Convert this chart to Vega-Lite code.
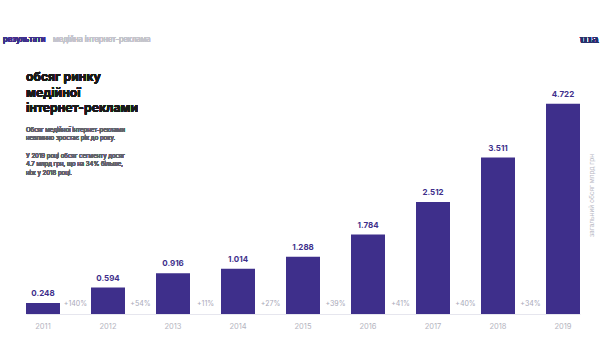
{
  "$schema": "https://vega.github.io/schema/vega-lite/v6.json",
  "autosize": "none",
  "width": 554,
  "height": 314,
  "padding": {"left": 26, "top": 0, "right": 20, "bottom": 43},
  "background": "white",
  "config": {"view": {"stroke": null}, "font": "Inter"},
  "data": {"values": [
    {"year": "2011", "value": 0.248, "growth": ""},
    {"year": "2012", "value": 0.594, "growth": "+140%"},
    {"year": "2013", "value": 0.916, "growth": "+54%"},
    {"year": "2014", "value": 1.014, "growth": "+11%"},
    {"year": "2015", "value": 1.288, "growth": "+27%"},
    {"year": "2016", "value": 1.784, "growth": "+39%"},
    {"year": "2017", "value": 2.512, "growth": "+41%"},
    {"year": "2018", "value": 3.511, "growth": "+40%"},
    {"year": "2019", "value": 4.722, "growth": "+34%"}
  ]},
  "encoding": {
    "x": {"field": "year", "type": "ordinal", "sort": null,
      "scale": {"paddingInner": 0.477, "paddingOuter": 0},
      "axis": {"title": null, "ticks": false, "domainColor": "#e6e6ee", "domainWidth": 1,
        "labelColor": "#b4b4c0", "labelFontSize": 7.5, "labelPadding": 8, "labelAngle": 0, "labelFont": "Inter"}},
    "y": {"type": "quantitative", "scale": {"domain": [0, 7.05], "nice": false}}
  },
  "layer": [
    {
      "mark": {"type": "bar", "color": "#3e2f8b"},
      "encoding": {
        "y": {"field": "value", "type": "quantitative",
          "axis": {"orient": "right", "title": "загальний обсяг млрд грн", "labels": false, "ticks": false,
            "domain": false, "grid": false, "titleAngle": 270, "titleColor": "#b8b8c4", "titleFontSize": 6.5,
            "titleFontWeight": "normal", "titleX": 14, "titleY": 195, "titleFont": "Inter"}}
      }
    },
    {
      "mark": {"type": "text", "baseline": "bottom", "dy": -5, "fontWeight": "bold", "fontSize": 8, "color": "#3e2f8b"},
      "encoding": {
        "y": {"field": "value", "type": "quantitative"},
        "text": {"field": "value", "type": "quantitative", "format": ".3f"}
      }
    },
    {
      "transform": [{"filter": "datum.growth != ''"}],
      "mark": {"type": "text", "baseline": "middle", "dx": -32.5, "dy": -10, "fontSize": 7, "color": "#a8a8b8"},
      "encoding": {
        "y": {"datum": 0},
        "text": {"field": "growth", "type": "nominal"}
      }
    },
    {
      "mark": {"type": "text", "align": "left", "baseline": "middle", "dx": -40, "fontSize": 7.5, "fontWeight": "bold", "color": "#3e2f8b", "text": "результати"},
      "encoding": {"x": {"datum": "2011"}, "y": {"datum": 6.15}}
    },
    {
      "mark": {"type": "text", "align": "left", "baseline": "middle", "dx": 10, "fontSize": 7.5, "color": "#c4c4cc", "text": "медійна інтернет-реклама"},
      "encoding": {"x": {"datum": "2011"}, "y": {"datum": 6.15}}
    },
    {
      "mark": {"type": "text", "align": "left", "baseline": "top", "dx": -17, "fontSize": 12.2, "fontWeight": "bold", "color": "#1a1a1a", "lineHeight": 15.8, "lineBreak": "\n",
        "text": "обсяг ринку\nмедійної\nінтернет-реклами"},
      "encoding": {"x": {"datum": "2011"}, "y": {"datum": 5.46}}
    },
    {
      "mark": {"type": "text", "align": "left", "baseline": "top", "dx": -17, "fontSize": 6, "color": "#62626c", "lineHeight": 8.2, "lineBreak": "\n",
        "text": "Обсяг медійної інтернет-реклами\nневпинно зростає рік до року."},
      "encoding": {"x": {"datum": "2011"}, "y": {"datum": 4.2}}
    },
    {
      "mark": {"type": "text", "align": "left", "baseline": "top", "dx": -17, "fontSize": 6, "color": "#62626c", "lineHeight": 8.2, "lineBreak": "\n",
        "text": "У 2019 році обсяг сегменту досяг\n4.7 млрд грн, що на 34% більше,\nніж у 2018 році."},
      "encoding": {"x": {"datum": "2011"}, "y": {"datum": 3.61}}
    },
    {
      "mark": {"type": "text", "align": "right", "baseline": "middle", "dx": 36, "fontSize": 11, "fontWeight": "bold", "font": "DejaVu Serif", "color": "#27306e", "text": "uıa"},
      "encoding": {"x": {"datum": "2019"}, "y": {"datum": 6.15}}
    }
  ]
}
